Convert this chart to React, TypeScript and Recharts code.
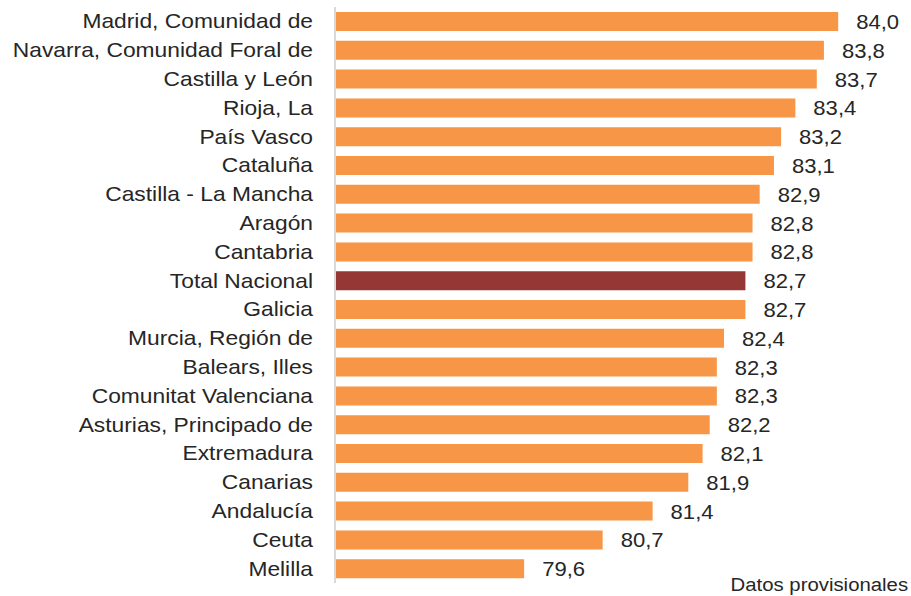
import React from 'react';
import { BarChart, Bar, XAxis, YAxis, Cell, LabelList } from 'recharts';

const regions = [
  'Madrid, Comunidad de',
  'Navarra, Comunidad Foral de',
  'Castilla y León',
  'Rioja, La',
  'País Vasco',
  'Cataluña',
  'Castilla - La Mancha',
  'Aragón',
  'Cantabria',
  'Total Nacional',
  'Galicia',
  'Murcia, Región de',
  'Balears, Illes',
  'Comunitat Valenciana',
  'Asturias, Principado de',
  'Extremadura',
  'Canarias',
  'Andalucía',
  'Ceuta',
  'Melilla',
];

const esperanza = [84.0, 83.8, 83.7, 83.4, 83.2, 83.1, 82.9, 82.8, 82.8, 82.7, 82.7, 82.4, 82.3, 82.3, 82.2, 82.1, 81.9, 81.4, 80.7, 79.6];

const totalLabel = 'Total Nacional';

const data = regions.map((name, i) => ({ name, valor: esperanza[i] }));

const fmt = (v: any) => Number(v).toFixed(1).replace('.', ',');

const FONT = "'Liberation Sans', Arial, sans-serif";

const RegionTick = (props: any) => {
  const { x, y, payload } = props;
  return (
    <text
      transform={`translate(${x},${y}) scale(1.14,1)`}
      dy={7}
      textAnchor="end"
      fill="#262626"
      fontSize={20}
      fontFamily={FONT}
    >
      {payload.value}
    </text>
  );
};

const ValueLabel = (props: any) => {
  const { x, y, width, height, value } = props;
  return (
    <text
      transform={`translate(${x + width + 18},${y + height / 2}) scale(1.05,1)`}
      dy={7.5}
      textAnchor="start"
      fill="#262626"
      fontSize={21}
      fontFamily={FONT}
    >
      {fmt(value)}
    </text>
  );
};

export default function App() {
  return (
    <div style={{ position: 'absolute', left: 0, top: 0, width: 911, height: 596, background: '#fff', overflow: 'hidden' }}>
      <BarChart
        layout="vertical"
        width={911}
        height={596}
        data={data}
        margin={{ top: 7, right: 5, bottom: 13, left: 0 }}
        barSize={19}
      >
        <XAxis type="number" domain={[76.95, 84.95]} allowDataOverflow hide />
        <YAxis
          type="category"
          dataKey="name"
          width={335}
          axisLine={{ stroke: '#d9d9d9', strokeWidth: 2 }}
          tickLine={false}
          tickSize={0}
          tickMargin={22}
          interval={0}
          tick={<RegionTick />}
        />
        <Bar dataKey="valor" isAnimationActive={false}>
          {data.map((d) => (
            <Cell key={d.name} fill={d.name === totalLabel ? '#953735' : '#F79646'} />
          ))}
          <LabelList dataKey="valor" content={<ValueLabel />} />
        </Bar>
      </BarChart>
      <div
        style={{
          position: 'absolute',
          right: 3,
          top: 575,
          fontSize: 18,
          lineHeight: '20px',
          color: '#262626',
          fontFamily: FONT,
          transform: 'scaleX(1.13)',
          transformOrigin: 'right top',
          whiteSpace: 'nowrap',
        }}
      >
        Datos provisionales
      </div>
    </div>
  );
}
